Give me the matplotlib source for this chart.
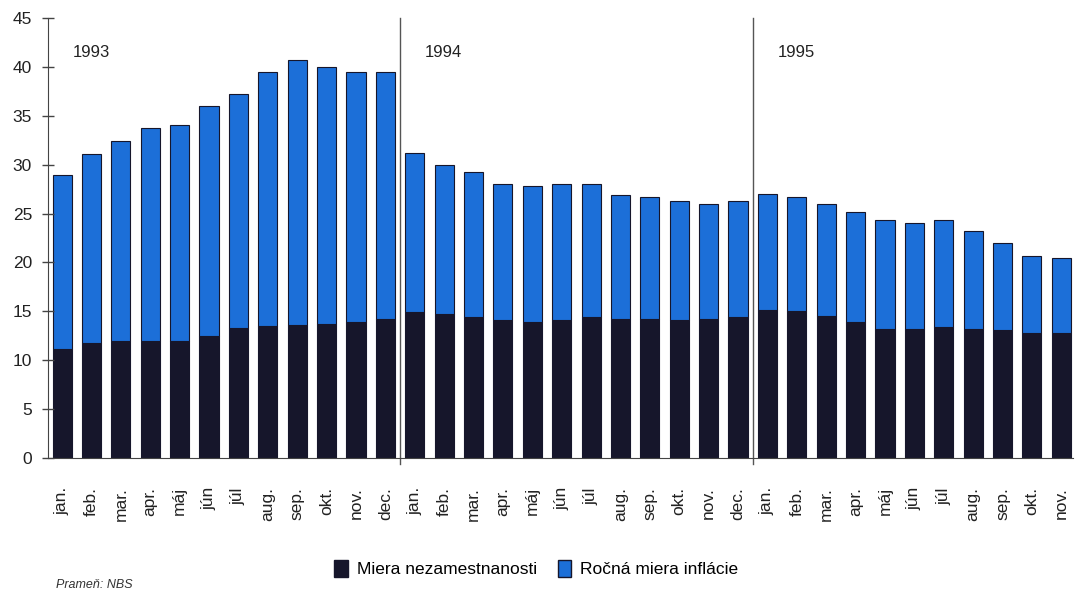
import numpy as np
import matplotlib
matplotlib.use('Agg')
import matplotlib.pyplot as plt
from matplotlib.patches import Patch

plt.rcParams['font.family'] = ['Liberation Sans', 'DejaVu Sans']

# Months shown on the x axis (jan 1993 - nov 1995)
month_names = ['jan.', 'feb.', 'mar.', 'apr.', 'máj', 'jún', 'júl',
               'aug.', 'sep.', 'okt.', 'nov.', 'dec.']
labels = month_names * 2 + month_names[:11]

years = ['1993', '1994', '1995']

# Unemployment rate (dark, bottom part of the bar)
unemployment = [11.2, 11.8, 12.0, 12.0, 12.0, 12.5, 13.3, 13.5, 13.6, 13.7, 13.9, 14.2,
                14.9, 14.7, 14.4, 14.1, 13.9, 14.1, 14.4, 14.25, 14.2, 14.1, 14.2, 14.4,
                15.1, 15.0, 14.5, 13.9, 13.2, 13.2, 13.4, 13.2, 13.1, 12.8, 12.8]

# Annual inflation rate (blue, stacked on top)
inflation = [17.7, 19.3, 20.4, 21.8, 22.1, 23.45, 23.9, 26.0, 27.1, 26.3, 25.6, 25.3,
             16.3, 15.3, 14.8, 13.9, 13.95, 13.9, 13.65, 12.6, 12.45, 12.2, 11.8, 11.85,
             11.9, 11.7, 11.45, 11.25, 11.1, 10.8, 10.9, 10.0, 8.9, 7.9, 7.7]

dark = '#16162b'
blue = '#1c6fd8'

fig = plt.figure(figsize=(10.83, 5.9), dpi=100)
ax = fig.add_axes([0.0443, 0.2237, 0.9465, 0.7458])

x = np.arange(len(labels))
ax.bar(x, unemployment, width=0.65, color=dark, edgecolor=dark, linewidth=0.8)
ax.bar(x, inflation, width=0.65, bottom=unemployment, color=blue,
       edgecolor=dark, linewidth=0.8)

# Year separators
for sep in [11.5, 23.5]:
    ax.axvline(sep, ymin=-0.013, ymax=1, color='#555555', lw=1.0, clip_on=False)

# Year labels
for i, yr in enumerate(years):
    ax.text(i * 12 + 0.35, 41.5, yr, fontsize=12, color='#222222', va='center', ha='left')

ax.set_xlim(-0.48, 34.4)
ax.set_ylim(0, 45)
ax.set_yticks(np.arange(0, 46, 5))
ax.set_xticks(x)
ax.set_xticklabels(labels, rotation=90, fontsize=12.5, color='#222222')
ax.tick_params(axis='x', length=0, pad=21)
ax.tick_params(axis='y', direction='inout', length=9, width=1, pad=7,
               labelsize=12.5, labelcolor='#222222', color='#444444')

for s in ['top', 'right']:
    ax.spines[s].set_visible(False)
ax.spines['left'].set_color('#444444')
ax.spines['bottom'].set_color('#444444')

handles = [Patch(facecolor=dark, edgecolor=dark, label='Miera nezamestnanosti'),
           Patch(facecolor=blue, edgecolor=dark, label='Ročná miera inflácie')]
fig.legend(handles=handles, loc='center', bbox_to_anchor=(0.495, 0.036), ncol=2,
           frameon=False, fontsize=12.5, handlelength=0.8, handleheight=1.1,
           handletextpad=0.5, columnspacing=1.2)

fig.text(0.052, 0.008, 'Prameň: NBS', fontsize=9, style='italic',
         color='#333333', va='center', ha='left')

fig.savefig('out.png', dpi=100)
